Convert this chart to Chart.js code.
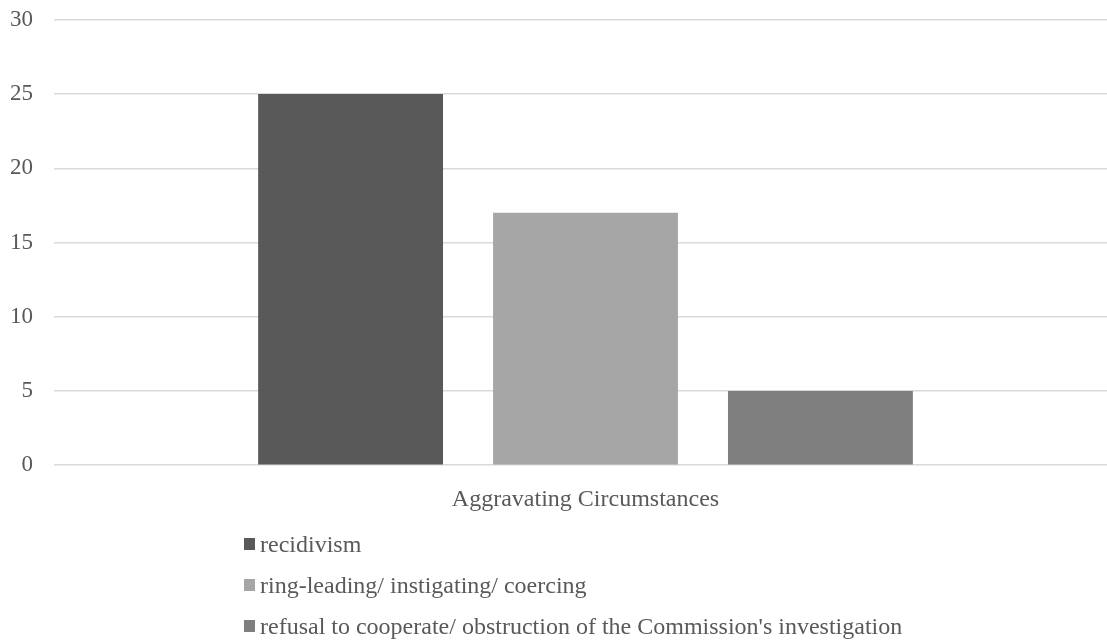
<!DOCTYPE html>
<html>
<head>
<meta charset="utf-8">
<script src="https://cdn.jsdelivr.net/npm/chart.js@4/dist/chart.umd.min.js"></script>
<style>
    html, body { margin: 0; padding: 0; background: #fff; overflow: hidden; }
    #wrap { position: relative; width: 1107px; height: 642px; overflow: hidden; }
    #chart { position: absolute; left: 0; top: -15px; }
    #legend {
        position: absolute; left: 244px; top: 524px;
        font-family: "Liberation Serif", "Times New Roman", serif;
        font-size: 24px; color: #595959;
    }
    #legend .item { height: 41px; line-height: 41px; white-space: nowrap; }
    #legend .box { display: inline-block; width: 11px; height: 12px; margin-right: 5px; vertical-align: middle; position: relative; top: -2px; }
</style>
</head>
<body>
<div id="wrap">
    <canvas id="chart" width="1117" height="657"></canvas>
    <div id="legend"></div>
</div>
<script>
// Veriler
const categories = ['Aggravating Circumstances'];
const seriesNames = [
    'recidivism',
    'ring-leading/ instigating/ coercing',
    "refusal to cooperate/ obstruction of the Commission's investigation"
];
const recidivism = [25];
const ringLeading = [17];
const refusal = [5];
const seriesColors = ['#595959', '#a6a6a6', '#7f7f7f'];
const yTicks = [0, 5, 10, 15, 20, 25, 30];

const fontFamily = '"Liberation Serif", "Times New Roman", serif';
const textColor = '#595959';

const ctx = document.getElementById('chart');

const chart = new Chart(ctx, {
    type: 'bar',
    data: {
        labels: categories,
        datasets: [recidivism, ringLeading, refusal].map((vals, i) => ({
            label: seriesNames[i],
            data: vals,
            backgroundColor: seriesColors[i],
            borderWidth: 0,
            barPercentage: 0.787,
            categoryPercentage: 0.663
        }))
    },
    options: {
        responsive: false,
        animation: false,
        layout: {
            padding: { left: 10, right: 0, top: 4, bottom: 116 }
        },
        plugins: {
            legend: { display: false },
            tooltip: { enabled: false }
        },
        scales: {
            x: {
                grid: { display: false },
                border: { display: false },
                ticks: {
                    padding: 12,
                    color: textColor,
                    font: { family: fontFamily, size: 24 }
                }
            },
            y: {
                min: yTicks[0],
                max: yTicks[yTicks.length - 1],
                afterBuildTicks: axis => {
                    axis.ticks = yTicks.map(v => ({ value: v }));
                },
                afterFit: axis => {
                    axis.width = 44;
                },
                grid: {
                    color: '#d9d9d9',
                    lineWidth: 1.5,
                    drawTicks: false
                },
                border: { display: false },
                ticks: {
                    padding: 21,
                    color: textColor,
                    font: { family: fontFamily, size: 23 }
                }
            }
        }
    }
});

// HTML lejant
const legend = document.getElementById('legend');
chart.data.datasets.forEach(ds => {
    const row = document.createElement('div');
    row.className = 'item';
    const box = document.createElement('span');
    box.className = 'box';
    box.style.background = ds.backgroundColor;
    row.appendChild(box);
    row.appendChild(document.createTextNode(ds.label));
    legend.appendChild(row);
});
</script>
</body>
</html>
